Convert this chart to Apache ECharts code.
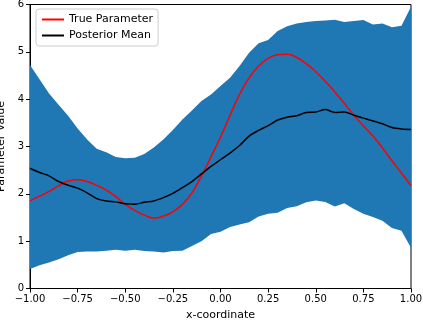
<!DOCTYPE html>
<html>
<head>
<meta charset="utf-8">
<script src="https://cdn.jsdelivr.net/npm/echarts@6/dist/echarts.min.js"></script>
<style>
  html, body { margin: 0; padding: 0; background: #fff; }
  #chart { width: 423px; height: 322px; }
</style>
</head>
<body>
<div id="chart"></div>
<script>
// x positions (step 0.05)
const xs = [-1, -0.95, -0.9, -0.85, -0.8, -0.75, -0.7, -0.65, -0.6, -0.55, -0.5, -0.45, -0.4, -0.35, -0.3, -0.25, -0.2, -0.15, -0.1, -0.05,
  0, 0.05, 0.1, 0.15, 0.2, 0.25, 0.3, 0.35, 0.4, 0.45, 0.5, 0.55, 0.6, 0.65, 0.7, 0.75, 0.8, 0.85, 0.9, 0.95, 1]

// credible band, upper and lower edge
const upper = [4.72, 4.42, 4.12, 3.88, 3.65, 3.38, 3.15, 2.95, 2.88, 2.78, 2.75, 2.76, 2.84, 2.98, 3.15, 3.35, 3.57, 3.76, 3.96, 4.10,
  4.28, 4.45, 4.70, 4.98, 5.18, 5.25, 5.44, 5.54, 5.60, 5.63, 5.65, 5.66, 5.68, 5.63, 5.65, 5.67, 5.58, 5.60, 5.52, 5.55, 5.95]
const lower = [0.41, 0.49, 0.55, 0.62, 0.70, 0.77, 0.78, 0.78, 0.80, 0.82, 0.80, 0.82, 0.79, 0.78, 0.76, 0.79, 0.80, 0.90, 1.00, 1.15,
  1.20, 1.30, 1.35, 1.40, 1.52, 1.58, 1.60, 1.70, 1.74, 1.82, 1.86, 1.83, 1.73, 1.80, 1.68, 1.58, 1.51, 1.43, 1.28, 1.22, 0.86]

const trueParam = [1.85, 1.95, 2.05, 2.17, 2.27, 2.30, 2.26, 2.18, 2.08, 1.94, 1.78, 1.65, 1.55, 1.49, 1.53, 1.62, 1.78, 2.02, 2.38, 2.78,
  3.2, 3.66, 4.1, 4.45, 4.7, 4.86, 4.94, 4.95, 4.88, 4.75, 4.58, 4.38, 4.15, 3.91, 3.66, 3.44, 3.22, 2.97, 2.70, 2.44, 2.17]
const postMean = [2.54, 2.45, 2.38, 2.26, 2.18, 2.12, 2.02, 1.90, 1.85, 1.83, 1.79, 1.78, 1.82, 1.85, 1.92, 2.01, 2.13, 2.26, 2.42, 2.58,
  2.72, 2.86, 3.02, 3.22, 3.34, 3.44, 3.56, 3.62, 3.65, 3.72, 3.73, 3.78, 3.72, 3.73, 3.66, 3.60, 3.54, 3.48, 3.40, 3.37, 3.36]

const bandWidth = upper.map((u, i) => u - lower[i])

const chart = echarts.init(document.getElementById('chart'))
const font = 'DejaVu Sans'

chart.setOption({
  animation: false,
  textStyle: { fontFamily: font },
  grid: {
    left: 30,
    right: 12,
    top: 4.5,
    bottom: 33.5,
    outerBoundsMode: 'none',
    containLabel: false,
    show: true,
    borderColor: '#000',
    borderWidth: 1
  },
  legend: {
    data: ['True Parameter', 'Posterior Mean'],
    orient: 'vertical',
    left: 36,
    top: 9,
    itemWidth: 22,
    itemHeight: 2,
    itemGap: 5,
    icon: 'rect',
    padding: [5, 5, 5, 6],
    backgroundColor: '#fff',
    borderColor: '#ccc',
    borderWidth: 1,
    borderRadius: 3,
    textStyle: { fontFamily: font, fontSize: 11, color: '#000' }
  },
  xAxis: {
    type: 'category',
    data: xs,
    boundaryGap: false,
    name: 'x-coordinate',
    nameLocation: 'middle',
    nameGap: 21,
    nameTextStyle: { fontFamily: font, fontSize: 11, color: '#000' },
    axisLine: { lineStyle: { color: '#000' } },
    axisTick: { interval: 4, length: 4, lineStyle: { color: '#000' } },
    splitLine: { show: false },
    axisLabel: {
      interval: 4,
      fontFamily: font, fontSize: 10, color: '#000', margin: 6,
      formatter: (v) => Number(v).toFixed(2).replace('-', '\u2212')
    }
  },
  yAxis: {
    type: 'value',
    min: 0,
    max: 6,
    interval: 1,
    name: 'Parameter Value',
    nameLocation: 'middle',
    nameGap: 15,
    nameTextStyle: { fontFamily: font, fontSize: 11, color: '#000' },
    axisLine: { show: true, onZero: false, lineStyle: { color: '#000' } },
    axisTick: { show: true, length: 4, lineStyle: { color: '#000' } },
    splitLine: { show: false },
    axisLabel: { fontFamily: font, fontSize: 10, color: '#000', margin: 6 }
  },
  series: [
    {
      name: 'lower',
      type: 'line',
      stack: 'band',
      data: lower,
      symbol: 'none',
      lineStyle: { opacity: 0 },
      silent: true
    },
    {
      name: 'band',
      type: 'line',
      stack: 'band',
      data: bandWidth,
      symbol: 'none',
      lineStyle: { opacity: 0 },
      areaStyle: { color: '#1f77b4', opacity: 1 },
      silent: true
    },
    {
      name: 'True Parameter',
      type: 'line',
      data: trueParam,
      symbol: 'none',
      smooth: true,
      color: '#ff0000',
      lineStyle: { color: '#ff0000', width: 1.5 }
    },
    {
      name: 'Posterior Mean',
      type: 'line',
      data: postMean,
      symbol: 'none',
      smooth: 0.3,
      color: '#000',
      lineStyle: { color: '#000', width: 1.5 }
    }
  ]
})
</script>
</body>
</html>
